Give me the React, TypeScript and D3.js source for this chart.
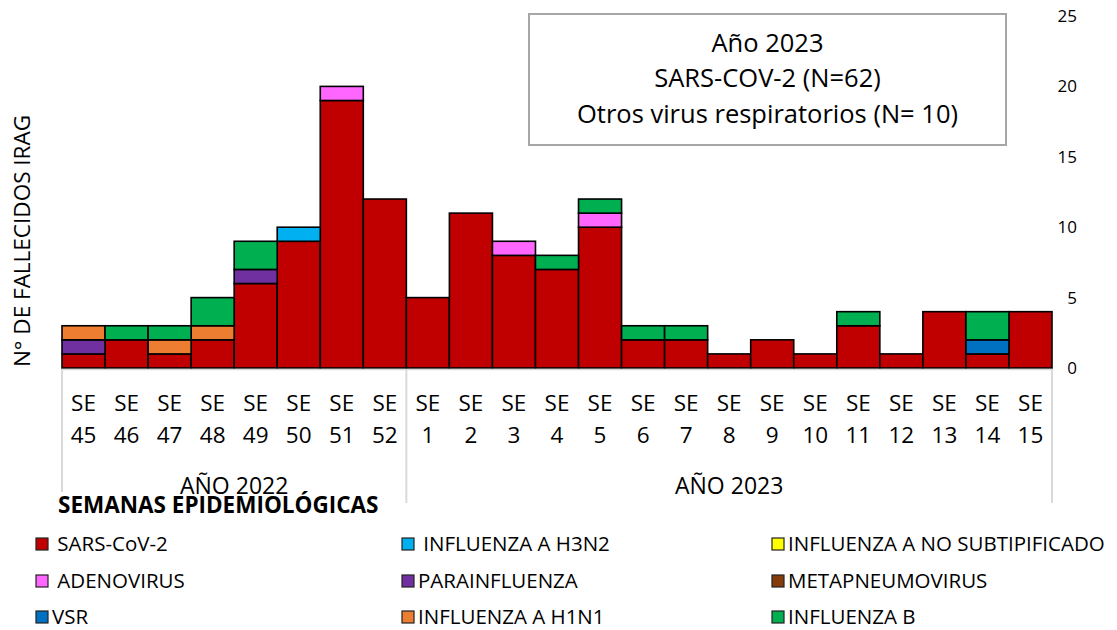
import * as d3 from "d3";

// semanas epidemiológicas (SE 45-52 de 2022, SE 1-15 de 2023)
const weeks = ["45", "46", "47", "48", "49", "50", "51", "52", "1", "2", "3", "4", "5", "6", "7", "8", "9", "10", "11", "12", "13", "14", "15"];
const years = [
  { label: "AÑO 2022", from: "45", to: "52" },
  { label: "AÑO 2023", from: "1", to: "15" },
];

// fallecidos por virus, en el orden de las semanas
const sarsCov2 = [1, 2, 1, 2, 6, 9, 19, 12, 5, 11, 8, 7, 10, 2, 2, 1, 2, 1, 3, 1, 4, 1, 4];
const adenovirus = [0, 0, 0, 0, 0, 0, 1, 0, 0, 0, 1, 0, 1, 0, 0, 0, 0, 0, 0, 0, 0, 0, 0];
const vsr = [0, 0, 0, 0, 0, 0, 0, 0, 0, 0, 0, 0, 0, 0, 0, 0, 0, 0, 0, 0, 0, 1, 0];
const h3n2 = [0, 0, 0, 0, 0, 1, 0, 0, 0, 0, 0, 0, 0, 0, 0, 0, 0, 0, 0, 0, 0, 0, 0];
const parainfluenza = [1, 0, 0, 0, 1, 0, 0, 0, 0, 0, 0, 0, 0, 0, 0, 0, 0, 0, 0, 0, 0, 0, 0];
const h1n1 = [1, 0, 1, 1, 0, 0, 0, 0, 0, 0, 0, 0, 0, 0, 0, 0, 0, 0, 0, 0, 0, 0, 0];
const noSubtipificado = [0, 0, 0, 0, 0, 0, 0, 0, 0, 0, 0, 0, 0, 0, 0, 0, 0, 0, 0, 0, 0, 0, 0];
const metapneumovirus = [0, 0, 0, 0, 0, 0, 0, 0, 0, 0, 0, 0, 0, 0, 0, 0, 0, 0, 0, 0, 0, 0, 0];
const influenzaB = [0, 1, 1, 2, 2, 0, 0, 0, 0, 0, 0, 1, 1, 1, 1, 0, 0, 0, 1, 0, 0, 2, 0];

const yTicks = [0, 5, 10, 15, 20, 25];

const series = [
  { key: "sars", label: " SARS-CoV-2", color: "#C00000", values: sarsCov2 },
  { key: "adeno", label: " ADENOVIRUS", color: "#FF66FF", values: adenovirus },
  { key: "vsr", label: "VSR", color: "#0070C0", values: vsr },
  { key: "h3n2", label: " INFLUENZA A H3N2", color: "#00B0F0", values: h3n2 },
  { key: "para", label: "PARAINFLUENZA", color: "#7030A0", values: parainfluenza },
  { key: "h1n1", label: "INFLUENZA A H1N1", color: "#ED7D31", values: h1n1 },
  { key: "ns", label: "INFLUENZA A NO SUBTIPIFICADO", color: "#FFFF00", values: noSubtipificado },
  { key: "metap", label: "METAPNEUMOVIRUS", color: "#843C0C", values: metapneumovirus },
  { key: "b", label: "INFLUENZA B", color: "#00B050", values: influenzaB },
];

const titleLines = ["Año 2023", "SARS-COV-2 (N=62)", "Otros virus respiratorios (N= 10)"];

const font = "'Open Sans', sans-serif";
const W = 1117;
const H = 630;

export default function App() {
  const x = d3.scaleBand().domain(weeks).range([62, 1052]).padding(0);
  const y = d3.scaleLinear().domain([0, 25]).range([368, 16]);

  const rows = weeks.map((w, i) => {
    const r: any = { week: w };
    series.forEach((s) => (r[s.key] = s.values[i]));
    return r;
  });
  const stacked = d3.stack().keys(series.map((s) => s.key))(rows);

  const colorOf = (k: string) => series.find((s) => s.key === k)!.color;

  // legend laid out in 3 columns, filled column by column
  const legendCols = [36, 402, 772];
  const legendRows = [544, 581, 617];

  return (
    <div style={{ position: "absolute", left: 0, top: 0 }}>
      <svg width={W} height={H} style={{ display: "block", background: "#fff" }} fontFamily={font}>
        {/* title box */}
        <rect x={529} y={14} width={477} height={131} fill="#fff" stroke="#A6A6A6" strokeWidth={2} />
        {titleLines.map((t, i) => (
          <text key={t} x={767.5} y={43 + i * 35.5} dy="0.35em" textAnchor="middle" fontSize={25.5} fill="#000">
            {t}
          </text>
        ))}

        {/* bars */}
        {stacked.map((layer) => (
          <g key={layer.key} fill={colorOf(layer.key)} stroke="#000" strokeWidth={1.6}>
            {layer.map((d, i) =>
              d[1] - d[0] > 0 ? (
                <rect
                  key={i}
                  x={x(weeks[i])!}
                  y={y(d[1])}
                  width={x.bandwidth()}
                  height={y(d[0]) - y(d[1])}
                />
              ) : null
            )}
          </g>
        ))}

        {/* x axis */}
        <line x1={62} x2={1052} y1={369.5} y2={369.5} stroke="#D9D9D9" strokeWidth={1.5} />
        {years.map((g, gi) => {
          const x0 = x(g.from)!;
          const x1 = x(g.to)! + x.bandwidth();
          return (
            <g key={g.label}>
              <line x1={x0} x2={x0} y1={369} y2={gi === 0 ? 492 : 503} stroke="#D9D9D9" strokeWidth={2} />
              {gi === years.length - 1 && (
                <line x1={x1} x2={x1} y1={369} y2={503} stroke="#D9D9D9" strokeWidth={2} />
              )}
              <text x={(x0 + x1) / 2} y={486} dy="0.35em" textAnchor="middle" fontSize={23}>
                {g.label}
              </text>
            </g>
          );
        })}
        {weeks.map((w) => (
          <g key={w} fontSize={22.5} textAnchor="middle">
            <text x={x(w)! + x.bandwidth() / 2} y={403} dy="0.35em">SE</text>
            <text x={x(w)! + x.bandwidth() / 2} y={435} dy="0.35em">{w}</text>
          </g>
        ))}

        {/* y axis (right) */}
        {yTicks.map((t) => (
          <text key={t} x={1077} y={y(t)} dy="0.35em" textAnchor="end" fontSize={17}>
            {t}
          </text>
        ))}
        <text
          transform={`translate(22,${241}) rotate(-90)`}
          textAnchor="middle"
          dy="0.35em"
          fontSize={22.5}
        >
          N° DE FALLECIDOS IRAG
        </text>

        <text x={58} y={505} dy="0.35em" fontSize={22.5} fontWeight="bold">
          SEMANAS EPIDEMIOLÓGICAS
        </text>

        {/* legend */}
        {series.map((s, i) => {
          const col = Math.floor(i / 3);
          const row = i % 3;
          const lx = legendCols[col];
          const ly = legendRows[row];
          return (
            <g key={s.key}>
              <rect x={lx} y={ly - 6} width={12} height={12} fill={s.color} stroke="#222" strokeWidth={1.2} />
              <text x={lx + 16} y={ly} dy="0.35em" fontSize={20.5} style={{ whiteSpace: "pre" }}>
                {s.label}
              </text>
            </g>
          );
        })}
      </svg>
    </div>
  );
}
